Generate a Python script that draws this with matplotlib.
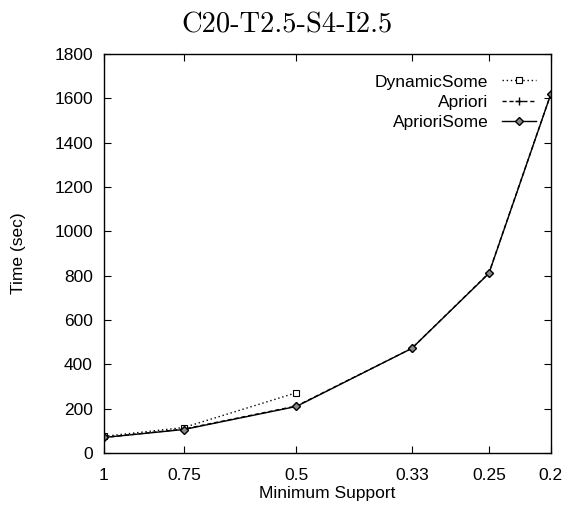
import matplotlib
matplotlib.use("Agg")
import matplotlib.pyplot as plt
from matplotlib.ticker import NullLocator, FixedLocator, FixedFormatter

support = [1, 0.75, 0.5, 0.33, 0.25, 0.2]
tick_labels = ["1", "0.75", "0.5", "0.33", "0.25", "0.2"]
dynamic_support = [1, 0.75, 0.5]
dynamic_some = [75, 115, 272]
apriori = [70, 108, 212, 472, 812, 1620]
apriori_some = [70, 106, 210, 472, 810, 1620]
yticks = [0, 200, 400, 600, 800, 1000, 1200, 1400, 1600, 1800]

FS = 12.5
plt.rcParams['font.family'] = ['Liberation Sans', 'DejaVu Sans']
fig = plt.figure(figsize=(5.65, 5.07), dpi=100)
ax = fig.add_axes([0.184, 0.1065, 0.791, 0.787])

ax.plot(dynamic_support, dynamic_some, linestyle=(0, (1, 2)), color='black', lw=1,
        marker='s', markersize=5, markerfacecolor='white', markeredgecolor='black',
        markeredgewidth=0.8, label='DynamicSome')
ax.plot(support, apriori, linestyle=(0, (3, 2)), color='black', lw=1,
        marker='+', markersize=6, markeredgewidth=1, label='Apriori')
ax.plot(support, apriori_some, linestyle='-', color='black', lw=1,
        marker='D', markersize=4, markerfacecolor='#888888', markeredgecolor='black',
        markeredgewidth=1, label='AprioriSome')

ax.set_xscale('log')
ax.set_xlim(1, 0.2)
ax.xaxis.set_major_locator(FixedLocator(support))
ax.xaxis.set_major_formatter(FixedFormatter(tick_labels))
ax.xaxis.set_minor_locator(NullLocator())
ax.set_ylim(0, 1800)
ax.set_yticks(yticks)

ax.tick_params(direction='in', length=5, width=0.8, top=True, right=True,
               labelsize=FS, colors='black')
ax.tick_params(axis='x', pad=11)
ax.tick_params(axis='y', pad=8)
for s in ax.spines.values():
    s.set_linewidth(1)

ax.set_xlabel('Minimum Support', fontsize=FS, labelpad=2)
ax.set_ylabel('Time (sec)', fontsize=FS, labelpad=20)

fig.text(0.508, 0.951, 'C20-T2.5-S4-I2.5', family='cmr10', fontsize=20.5,
         ha='center', va='center')

leg = ax.legend(loc='upper right', bbox_to_anchor=(0.99, 0.975), frameon=False,
                markerfirst=False, fontsize=FS, handlelength=1.95,
                handletextpad=0.8, labelspacing=0.3, borderaxespad=0.2)
for t in leg.get_texts():
    t.set_ha('right')
leg._legend_box.align = 'right'

fig.savefig('out.png', dpi=100)
